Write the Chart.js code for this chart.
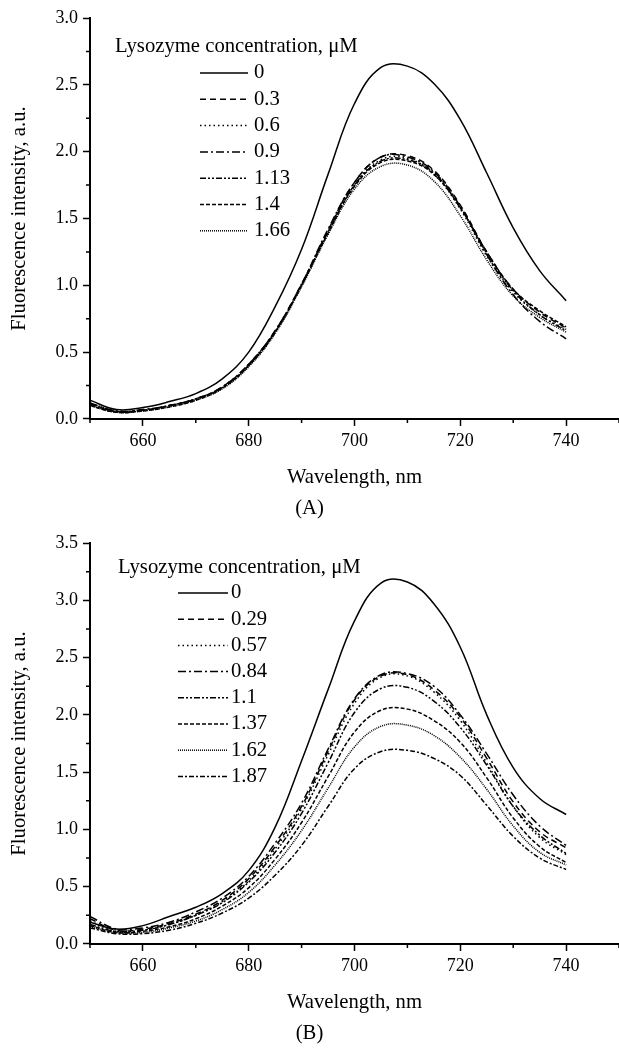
<!DOCTYPE html>
<html>
<head>
<meta charset="utf-8">
<script src="https://cdn.jsdelivr.net/npm/chart.js@4.4.1/dist/chart.umd.min.js"></script>
<style>
  html, body { margin: 0; padding: 0; background: #fff; }
  canvas { display: block; }
</style>
</head>
<body>
<canvas id="chartA" width="619" height="525"></canvas>
<canvas id="chartB" width="619" height="523"></canvas>
<script>
// wavelength grid (nm)
const wavelengths = [650, 655, 660, 665, 670, 675, 680, 685, 690, 695, 700, 705, 710, 715, 720, 725, 730, 735, 740];

// (A) lysozyme concentration, uM
const concA = ["0", "0.3", "0.6", "0.9", "1.13", "1.4", "1.66"];
const a0 = [0.14, 0.07, 0.085, 0.13, 0.19, 0.30, 0.50, 0.84, 1.27, 1.83, 2.36, 2.63, 2.64, 2.51, 2.24, 1.84, 1.43, 1.11, 0.885];
const a1 = [0.11, 0.055, 0.065, 0.10, 0.15, 0.24, 0.41, 0.66, 1.01, 1.41, 1.77, 1.96, 1.97, 1.86, 1.60, 1.25, 0.97, 0.80, 0.68];
const a2 = [0.12, 0.06, 0.07, 0.10, 0.15, 0.235, 0.40, 0.65, 1.00, 1.40, 1.75, 1.94, 1.95, 1.83, 1.57, 1.22, 0.95, 0.78, 0.67];
const a3 = [0.12, 0.06, 0.07, 0.10, 0.15, 0.24, 0.41, 0.66, 1.01, 1.42, 1.77, 1.96, 1.96, 1.85, 1.59, 1.23, 0.93, 0.73, 0.60];
const a4 = [0.11, 0.055, 0.065, 0.10, 0.15, 0.235, 0.40, 0.65, 1.00, 1.40, 1.75, 1.93, 1.94, 1.84, 1.58, 1.24, 0.96, 0.78, 0.66];
const a5 = [0.10, 0.05, 0.06, 0.09, 0.14, 0.23, 0.40, 0.65, 1.00, 1.39, 1.74, 1.92, 1.93, 1.83, 1.58, 1.25, 0.97, 0.81, 0.69];
const a6 = [0.10, 0.05, 0.06, 0.09, 0.14, 0.225, 0.39, 0.64, 0.99, 1.38, 1.72, 1.89, 1.90, 1.78, 1.52, 1.19, 0.92, 0.76, 0.65];

// (B) lysozyme concentration, uM
const concB = ["0", "0.29", "0.57", "0.84", "1.1", "1.37", "1.62", "1.87"];
const b0 = [0.19, 0.13, 0.16, 0.24, 0.32, 0.44, 0.64, 1.02, 1.60, 2.22, 2.82, 3.15, 3.16, 2.97, 2.59, 2.00, 1.54, 1.27, 1.13];
const b1 = [0.22, 0.12, 0.13, 0.18, 0.26, 0.38, 0.57, 0.85, 1.20, 1.68, 2.13, 2.34, 2.35, 2.22, 1.98, 1.62, 1.24, 0.98, 0.84];
const b2 = [0.20, 0.11, 0.12, 0.17, 0.25, 0.37, 0.55, 0.83, 1.18, 1.65, 2.10, 2.33, 2.34, 2.20, 1.95, 1.58, 1.20, 0.93, 0.78];
const b3 = [0.24, 0.13, 0.14, 0.19, 0.28, 0.40, 0.59, 0.88, 1.23, 1.70, 2.14, 2.35, 2.36, 2.25, 2.00, 1.66, 1.30, 1.03, 0.86];
const b4 = [0.17, 0.11, 0.12, 0.17, 0.25, 0.36, 0.54, 0.80, 1.14, 1.58, 2.02, 2.23, 2.24, 2.12, 1.89, 1.56, 1.20, 0.95, 0.79];
const b5 = [0.16, 0.10, 0.11, 0.15, 0.22, 0.33, 0.49, 0.74, 1.06, 1.46, 1.85, 2.04, 2.05, 1.95, 1.76, 1.45, 1.10, 0.85, 0.71];
const b6 = [0.15, 0.10, 0.10, 0.14, 0.20, 0.30, 0.45, 0.69, 0.99, 1.36, 1.72, 1.90, 1.91, 1.82, 1.63, 1.35, 1.03, 0.80, 0.69];
const b7 = [0.14, 0.09, 0.09, 0.12, 0.18, 0.27, 0.40, 0.60, 0.86, 1.20, 1.53, 1.68, 1.69, 1.62, 1.47, 1.21, 0.94, 0.75, 0.65];

// line styles
const dashes = [[], [6, 4], [1.5, 3], [8, 3, 2, 3], [6, 2, 2, 2, 2, 2], [4, 2], [1, 1], [5, 2, 2, 2]];

const FONT = "'Liberation Serif', 'Times New Roman', serif";
const TEXT_SIZE = 20.7;
Chart.defaults.font.family = FONT;
Chart.defaults.font.size = 18;
Chart.defaults.color = "#000";

const isMajor = (v, step) => Math.abs(v / step - Math.round(v / step)) < 1e-6;

// shorter minor ticks, drawn on the library's own tick positions
const minorTicks = {
    id: "minorTicks",
    afterDraw(chart) {
        const { ctx, scales: { x, y } } = chart;
        ctx.save();
        ctx.strokeStyle = "#000";
        ctx.lineWidth = 1.5;
        ctx.beginPath();
        x.ticks.forEach(t => {
            if (isMajor(t.value, 20)) return;
            const px = x.getPixelForValue(t.value);
            ctx.moveTo(px, x.top);
            ctx.lineTo(px, x.top + 4);
        });
        y.ticks.forEach(t => {
            if (isMajor(t.value, 0.5)) return;
            const py = y.getPixelForValue(t.value);
            ctx.moveTo(y.right, py);
            ctx.lineTo(y.right - 4, py);
        });
        ctx.stroke();
        ctx.restore();
    }
};

// legend drawn inside the plot
const concLegend = {
    id: "concLegend",
    afterDatasetsDraw(chart, args, opts) {
        const { ctx } = chart;
        ctx.save();
        ctx.font = TEXT_SIZE + "px " + FONT;
        ctx.fillStyle = "#000";
        ctx.textBaseline = "middle";
        ctx.fillText("Lysozyme concentration, \u03bcM", opts.titleX, opts.titleY);
        chart.data.datasets.forEach((ds, i) => {
            const y = opts.rowY + i * opts.rowGap;
            ctx.beginPath();
            ctx.setLineDash(ds.borderDash);
            ctx.lineWidth = ds.borderWidth;
            ctx.strokeStyle = ds.borderColor;
            ctx.moveTo(opts.lineX0, y);
            ctx.lineTo(opts.lineX1, y);
            ctx.stroke();
            ctx.setLineDash([]);
            ctx.fillText(ds.label, opts.textX, y);
        });
        ctx.restore();
    }
};

function makeChart(id, labels, series, yMax, panel, legendPos, titleBottomPad) {
    const datasets = series.map((vals, i) => ({
        label: labels[i],
        data: wavelengths.map((w, j) => ({ x: w, y: vals[j] })),
        borderColor: "#000",
        borderWidth: 1.5,
        borderDash: dashes[i],
        pointRadius: 0,
        fill: false,
        tension: 0.4
    }));

    new Chart(document.getElementById(id), {
        type: "line",
        data: { datasets },
        options: {
            responsive: false,
            animation: false,
            layout: { padding: { top: 18, right: 0, left: 0, bottom: 0 } },
            scales: {
                x: {
                    type: "linear",
                    min: 650,
                    max: 750,
                    border: { color: "#000", width: 2 },
                    grid: {
                        drawOnChartArea: false,
                        tickLength: 7,
                        tickWidth: 1.5,
                        tickColor: c => (c.tick && isMajor(c.tick.value, 20)) ? "#000" : "rgba(0,0,0,0)"
                    },
                    ticks: {
                        stepSize: 10,
                        autoSkip: false,
                        maxRotation: 0,
                        padding: 5,
                        callback: v => isMajor(v, 20) ? String(v) : ""
                    },
                    title: {
                        display: true,
                        text: "Wavelength, nm",
                        font: { size: TEXT_SIZE },
                        padding: { top: 0, bottom: 7 }
                    },
                    afterFit: s => { s.height = 77.6; s.paddingRight = 0; }
                },
                y: {
                    min: 0,
                    max: yMax,
                    border: { color: "#000", width: 2 },
                    grid: {
                        drawOnChartArea: false,
                        tickLength: 7,
                        tickWidth: 1.5,
                        tickColor: c => (c.tick && isMajor(c.tick.value, 0.5)) ? "#000" : "rgba(0,0,0,0)"
                    },
                    ticks: {
                        stepSize: 0.25,
                        autoSkip: false,
                        padding: 5,
                        callback: v => isMajor(v, 0.5) ? v.toFixed(1) : ""
                    },
                    title: {
                        display: true,
                        text: "Fluorescence intensity, a.u.",
                        font: { size: TEXT_SIZE },
                        padding: { top: 7, bottom: 0 }
                    },
                    afterFit: s => { s.width = 90; }
                }
            },
            plugins: {
                legend: { display: false },
                tooltip: { enabled: false },
                title: {
                    display: true,
                    position: "bottom",
                    text: panel,
                    font: { size: TEXT_SIZE, weight: "normal" },
                    padding: { top: 0, bottom: titleBottomPad }
                },
                concLegend: legendPos
            }
        },
        plugins: [minorTicks, concLegend]
    });
}

makeChart("chartA", concA, [a0, a1, a2, a3, a4, a5, a6], 3.0, "(A)",
    { titleX: 115, titleY: 47, lineX0: 200, lineX1: 248, textX: 254, rowY: 73, rowGap: 26.3 }, 3.6);

makeChart("chartB", concB, [b0, b1, b2, b3, b4, b5, b6, b7], 3.5, "(B)",
    { titleX: 118, titleY: 43, lineX0: 178, lineX1: 228, textX: 231, rowY: 68, rowGap: 26.2 }, 1.6);
</script>
</body>
</html>
